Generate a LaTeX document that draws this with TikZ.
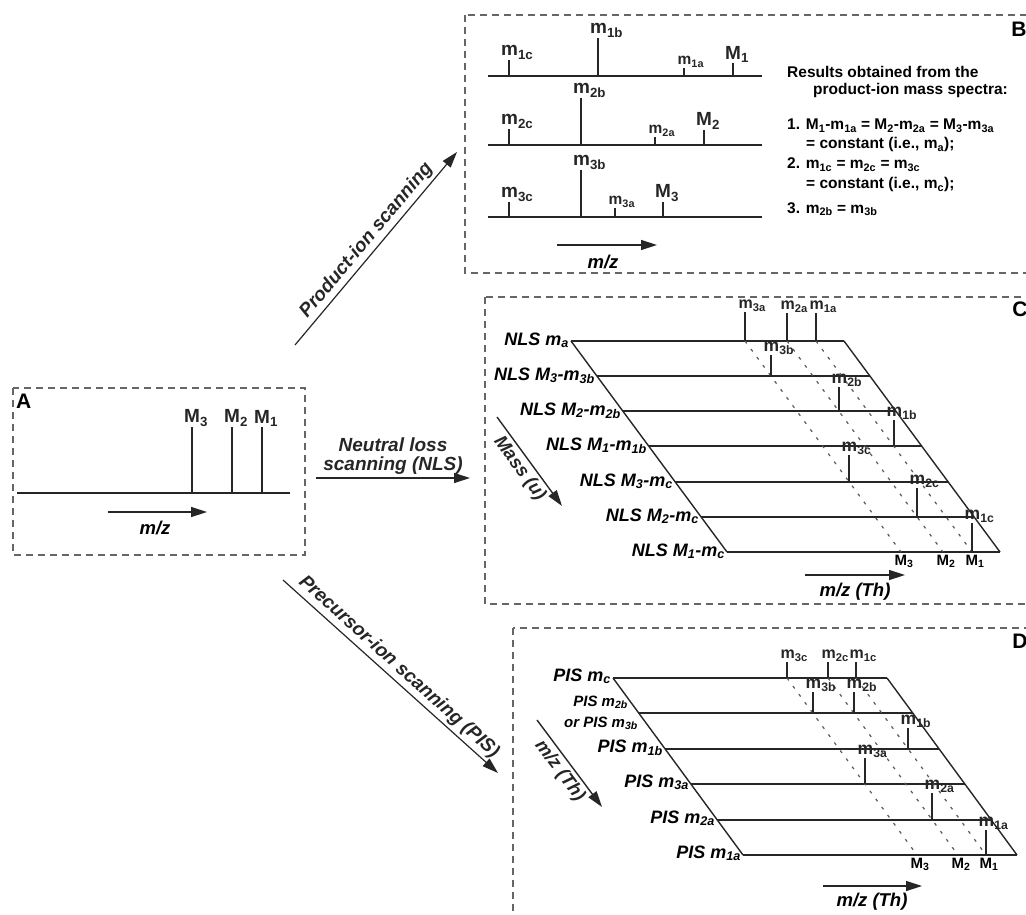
\documentclass[tikz,border=0pt]{standalone}
\usepackage{fontspec}
\setmainfont{Liberation Sans}
\usetikzlibrary{arrows.meta}
\newcommand{\msub}[2]{#1\textsubscript{#2}}
\newcommand{\fsz}[1]{\fontsize{#1}{#1}\selectfont\bfseries}

\begin{document}
\begin{tikzpicture}[x=1pt,y=-1pt]
    \tikzstyle{panel}=[draw=black!60, line width=1.2pt, dash pattern=on 7pt off 5pt]
    \tikzstyle{axis}=[line width=1.4pt, black!85]
    \tikzstyle{peak}=[line width=1.4pt, black!85]
    \tikzstyle{track}=[line width=1.2pt, black!65, dash pattern=on 3pt off 7pt]
    \tikzstyle{mzarrow}=[line width=1.4pt, black!85, -{Triangle[length=16pt,width=10pt]}]
    \tikzstyle{scanarrow}=[line width=1.2pt, black!85, -{Triangle[length=16pt,width=10pt]}]
    \tikzstyle{letter}=[inner sep=0pt, font=\fsz{21}]
    \tikzstyle{bigpk}=[anchor=south west, inner sep=0pt, xshift=-8.5pt, font=\fsz{19}]
    \tikzstyle{apk}=[anchor=south west, inner sep=0pt, xshift=-7pt, font=\fsz{15.5}]
    \tikzstyle{toppk}=[anchor=south west, inner sep=0pt, xshift=-7pt, font=\fsz{16}]
    \tikzstyle{rowpk}=[anchor=south west, inner sep=0pt, xshift=-8pt, font=\fsz{17.5}]
    \tikzstyle{basepk}=[anchor=north west, inner sep=0pt, xshift=-6.5pt, font=\fsz{15}]
    \tikzstyle{rowlabel}=[anchor=base east, inner sep=0pt, font=\fsz{18}\itshape]
    \tikzstyle{orlabel}=[anchor=base east, inner sep=0pt, font=\fsz{15}\itshape]
    \tikzstyle{result}=[anchor=base west, inner sep=0pt, font=\fsz{15.5}]
    \tikzstyle{axislabel}=[inner sep=0pt, font=\fsz{18.5}\itshape]
    \tikzstyle{scanlabel}=[inner sep=3pt, font=\fsz{19}\itshape]

    \useasboundingbox (0,0) rectangle (1026,915);
    \clip (0,0) rectangle (1026,915);

    % panel A
    \draw[panel] (13,388) rectangle (305,555);
    \node[letter, anchor=north west] (Alet) at (16,394) {A};
    \draw[axis] (17,493) -- (290,493);
    \draw[peak] (192,493) -- (192,427) node[bigpk] (AM3) {\msub{M}{3}};
    \draw[peak] (232,493) -- (232,427) node[bigpk] (AM2) {\msub{M}{2}};
    \draw[peak] (262,493) -- (262,427) node[bigpk] (AM1) {\msub{M}{1}};
    \draw[mzarrow] (108,512) -- (207,512);
    \node[axislabel] (Amz) at (155,528) {m/z};

    % panel B
    \draw[panel] (465,15) rectangle (1040,273);
    \node[letter] (Blet) at (1019,29) {B};
    % product-ion spectrum of M1
    \draw[axis] (488,76) -- (762,76);
    \draw[peak] (509,76) -- (509,60) node[bigpk] (B1c) {\msub{m}{1c}};
    \draw[peak] (598,76) -- (598,38) node[bigpk] (B1b) {\msub{m}{1b}};
    \draw[peak] (684,76) -- (684,68) node[apk] (B1a) {\msub{m}{1a}};
    \draw[peak] (733,76) -- (733,63) node[bigpk] (BM1) {\msub{M}{1}};
    % product-ion spectrum of M2
    \draw[axis] (488,145) -- (762,145);
    \draw[peak] (509,145) -- (509,129) node[bigpk] (B2c) {\msub{m}{2c}};
    \draw[peak] (581,145) -- (581,98) node[bigpk] (B2b) {\msub{m}{2b}};
    \draw[peak] (655,145) -- (655,137) node[apk] (B2a) {\msub{m}{2a}};
    \draw[peak] (704,145) -- (704,130) node[bigpk] (BM2) {\msub{M}{2}};
    % product-ion spectrum of M3
    \draw[axis] (488,217) -- (762,217);
    \draw[peak] (509,217) -- (509,202) node[bigpk] (B3c) {\msub{m}{3c}};
    \draw[peak] (581,217) -- (581,170) node[bigpk] (B3b) {\msub{m}{3b}};
    \draw[peak] (615,217) -- (615,208) node[apk] (B3a) {\msub{m}{3a}};
    \draw[peak] (663,217) -- (663,202) node[bigpk] (BM3) {\msub{M}{3}};
    \draw[mzarrow] (557,245) -- (657,245);
    \node[axislabel] (Bmz) at (603,262) {m/z};
    % results
    \node[result] (res1) at (787,78) {Results obtained from the};
    \node[result] (res2) at (813,95) {product-ion mass spectra:};
    \node[result] (res3) at (787,130) {1. \msub{M}{1}-\msub{m}{1a} = \msub{M}{2}-\msub{m}{2a} = \msub{M}{3}-\msub{m}{3a}};
    \node[result] (res4) at (806,149) {= constant (i.e., \msub{m}{a});};
    \node[result] (res5) at (787,169) {2. \msub{m}{1c} = \msub{m}{2c} = \msub{m}{3c}};
    \node[result] (res6) at (806,189) {= constant (i.e., \msub{m}{c});};
    \node[result] (res7) at (787,213) {3. \msub{m}{2b} = \msub{m}{3b}};

    % panel C
    \draw[panel] (485,297) rectangle (1040,604);
    \node[letter] (Clet) at (1020,309) {C};
    % scan lines
    \draw[axis] (571,341) -- (844,341);
    \draw[axis] (597,376) -- (870,376);
    \draw[axis] (623,411) -- (896,411);
    \draw[axis] (649,446) -- (922,446);
    \draw[axis] (675,482) -- (948,482);
    \draw[axis] (701,517) -- (974,517);
    \draw[axis] (727,552) -- (1000,552);
    \draw[axis] (571,341) -- (727,552);
    \draw[axis] (844,341) -- (1000,552);
    % precursor tracks
    \draw[track] (745,341) -- (901,552);
    \draw[track] (787,341) -- (943,552);
    \draw[track] (816,341) -- (972,552);
    % peaks
    \draw[peak] (745,341) -- (745,312) node[toppk] (C3a) {\msub{m}{3a}};
    \draw[peak] (787,341) -- (787,313) node[toppk] (C2a) {\msub{m}{2a}};
    \draw[peak] (816,341) -- (816,313) node[toppk] (C1a) {\msub{m}{1a}};
    \draw[peak] (771,376) -- (771,355) node[rowpk] (C3b) {\msub{m}{3b}};
    \draw[peak] (839,411) -- (839,387) node[rowpk] (C2b) {\msub{m}{2b}};
    \draw[peak] (894,446) -- (894,420) node[rowpk] (C1b) {\msub{m}{1b}};
    \draw[peak] (849,482) -- (849,455) node[rowpk] (C3c) {\msub{m}{3c}};
    \draw[peak] (917,517) -- (917,488) node[rowpk] (C2c) {\msub{m}{2c}};
    \draw[peak] (972,552) -- (972,523) node[rowpk] (C1c) {\msub{m}{1c}};
    \node[basepk] (CM3) at (901,555) {\msub{M}{3}};
    \node[basepk] (CM2) at (943,555) {\msub{M}{2}};
    \node[basepk] (CM1) at (972,555) {\msub{M}{1}};
    % scan names
    \node[rowlabel] (Cr0) at (569,345) {NLS \msub{m}{a}};
    \node[rowlabel] (Cr1) at (595,380) {NLS \msub{M}{3}-\msub{m}{3b}};
    \node[rowlabel] (Cr2) at (621,415) {NLS \msub{M}{2}-\msub{m}{2b}};
    \node[rowlabel] (Cr3) at (647,450) {NLS \msub{M}{1}-\msub{m}{1b}};
    \node[rowlabel] (Cr4) at (673,486) {NLS \msub{M}{3}-\msub{m}{c}};
    \node[rowlabel] (Cr5) at (699,521) {NLS \msub{M}{2}-\msub{m}{c}};
    \node[rowlabel] (Cr6) at (725,556) {NLS \msub{M}{1}-\msub{m}{c}};
    \draw[mzarrow] (805,575) -- (905,575);
    \node[axislabel] (Cmz) at (855,592) {m/z (Th)};
    \draw[mzarrow] (497,417) -- (562,506) node[midway, sloped, below, axislabel, inner sep=3pt] (Cmass) {Mass (u)};

    % panel D
    \draw[panel] (513,628) rectangle (1040,930);
    \node[letter] (Dlet) at (1020,641) {D};
    % scan lines
    \draw[axis] (613,678) -- (887,678);
    \draw[axis] (639,713) -- (913,713);
    \draw[axis] (665,749) -- (939,749);
    \draw[axis] (691,784) -- (965,784);
    \draw[axis] (717,820) -- (991,820);
    \draw[axis] (743,855) -- (1017,855);
    \draw[axis] (613,678) -- (743,855);
    \draw[axis] (887,678) -- (1017,855);
    % precursor tracks
    \draw[track] (787,678) -- (917,855);
    \draw[track] (828,678) -- (958,855);
    \draw[track] (856,678) -- (986,855);
    % peaks
    \draw[peak] (787,678) -- (787,662) node[toppk] (D3c) {\msub{m}{3c}};
    \draw[peak] (828,678) -- (828,662) node[toppk] (D2c) {\msub{m}{2c}};
    \draw[peak] (856,678) -- (856,662) node[toppk] (D1c) {\msub{m}{1c}};
    \draw[peak] (813,713) -- (813,692) node[rowpk] (D3b) {\msub{m}{3b}};
    \draw[peak] (854,713) -- (854,692) node[rowpk] (D2b) {\msub{m}{2b}};
    \draw[peak] (908,749) -- (908,728) node[rowpk] (D1b) {\msub{m}{1b}};
    \draw[peak] (865,784) -- (865,758) node[rowpk] (D3a) {\msub{m}{3a}};
    \draw[peak] (932,820) -- (932,793) node[rowpk] (D2a) {\msub{m}{2a}};
    \draw[peak] (986,855) -- (986,830) node[rowpk] (D1a) {\msub{m}{1a}};
    \node[basepk] (DM3) at (917,858) {\msub{M}{3}};
    \node[basepk] (DM2) at (958,858) {\msub{M}{2}};
    \node[basepk] (DM1) at (986,858) {\msub{M}{1}};
    % scan names
    \node[rowlabel] (Dr0) at (611,681) {PIS \msub{m}{c}};
    \node[orlabel] (Dr1) at (628,706) {PIS \msub{m}{2b}};
    \node[orlabel] (Dr1b) at (638,727) {or PIS \msub{m}{3b}};
    \node[rowlabel] (Dr2) at (663,752) {PIS \msub{m}{1b}};
    \node[rowlabel] (Dr3) at (689,787) {PIS \msub{m}{3a}};
    \node[rowlabel] (Dr4) at (715,823) {PIS \msub{m}{2a}};
    \node[rowlabel] (Dr5) at (741,858) {PIS \msub{m}{1a}};
    \draw[mzarrow] (823,886) -- (922,886);
    \node[axislabel] (Dmz) at (872,902) {m/z (Th)};
    \draw[mzarrow] (537,720) -- (602,807) node[midway, sloped, below, axislabel, inner sep=3pt] (Dmass) {m/z (Th)};

    % scan modes
    \coordinate (prodfrom) at (295,345);
    \coordinate (prodto) at (457,152);
    \draw[scanarrow] (prodfrom) -- (prodto) node[midway, sloped, above, scanlabel] (prodlabel) {Product-ion scanning};
    \coordinate (nlsfrom) at (316,478);
    \coordinate (nlsto) at (470,478);
    \draw[scanarrow] (nlsfrom) -- (nlsto) node[midway, above, scanlabel, align=center] (nlslabel) {Neutral loss\\scanning (NLS)};
    \coordinate (pisfrom) at (283,580);
    \coordinate (pisto) at (498,773);
    \draw[scanarrow] (pisfrom) -- (pisto) node[midway, sloped, above, scanlabel] (pislabel) {Precursor-ion scanning (PIS)};

\end{tikzpicture}
\end{document}
